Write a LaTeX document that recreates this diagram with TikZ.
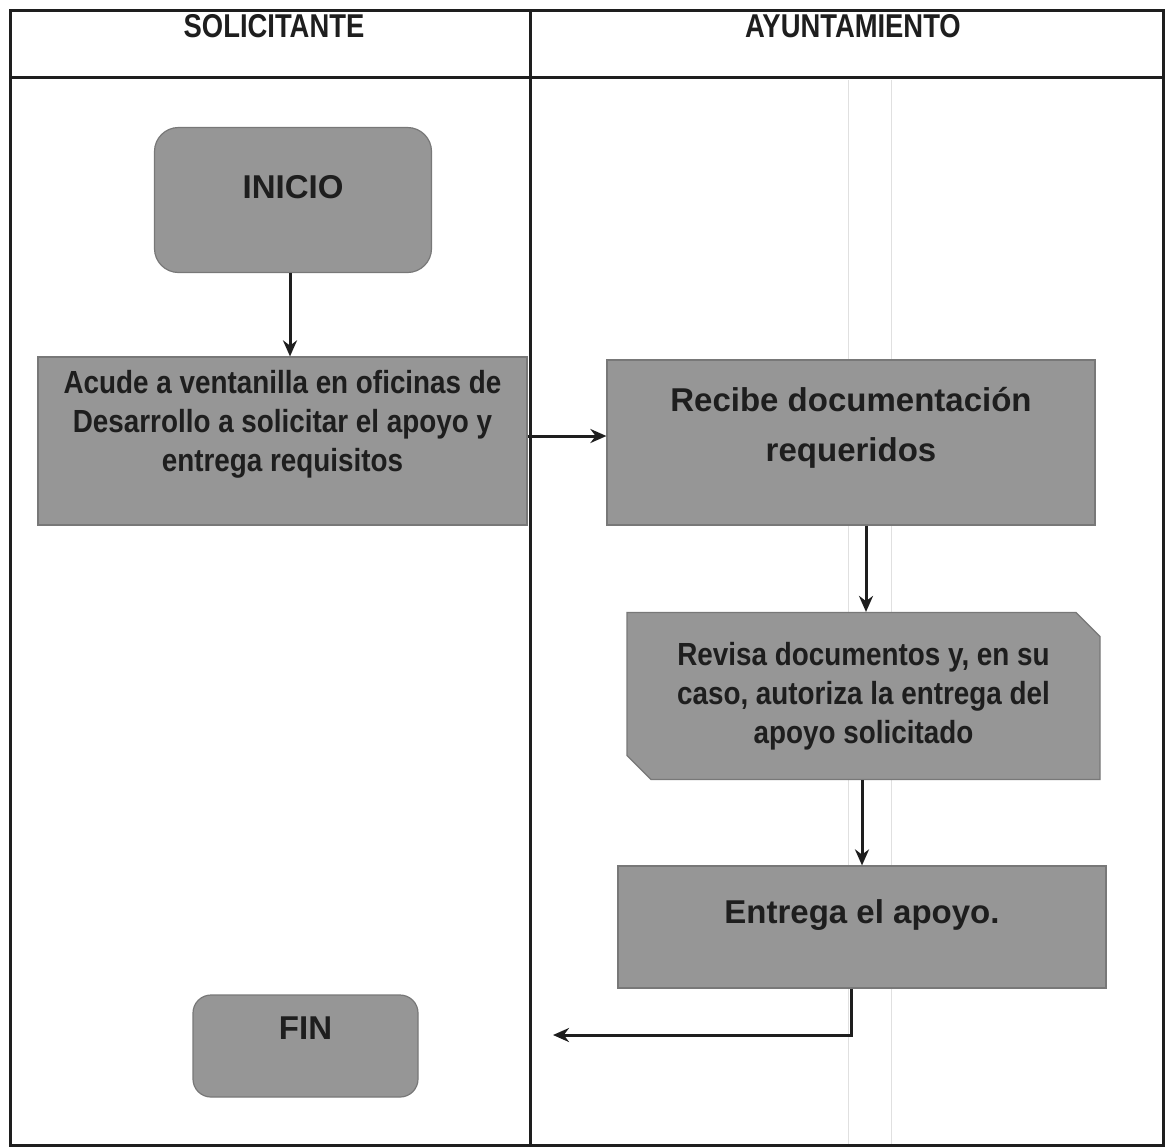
\documentclass[tikz,border=0pt]{standalone}
\usepackage{fontspec}
\setmainfont{Liberation Sans}
\newfontfamily\condA[FakeStretch=0.87]{Liberation Sans}
\newfontfamily\condH[FakeStretch=0.83]{Liberation Sans}
\usetikzlibrary{shapes.misc,arrows.meta}
\definecolor{boxgray}{RGB}{150,150,150}
\definecolor{boxedge}{RGB}{120,120,120}
\definecolor{ink}{RGB}{30,30,30}
\tikzset{
  frameline/.style={line width=1.5pt, draw=ink},
  faint/.style={line width=0.5pt, draw=black!12},
  stepbox/.style={draw=boxedge, fill=boxgray, line width=0.6pt, align=center, text=ink, inner sep=2pt},
  condtext/.style={font=\condA\bfseries\fontsize{16}{19.5}\selectfont},
  widetext/.style={font=\bfseries\fontsize{16.5}{25}\selectfont},
  termbox/.style={stepbox, rounded corners=12pt},
  conn/.style={line width=1.5pt, draw=ink, -{Stealth[length=8pt,width=7pt]}},
  headtext/.style={font=\condH\bfseries\fontsize{16.5}{18}\selectfont, text=ink}
}
\begin{document}
\begin{tikzpicture}[x=0.5pt,y=-0.5pt]
\useasboundingbox[fill=white] (0,0) rectangle (1166,1147);
% faint scan lines
\draw[faint] (848,80) -- (848,1145);
\draw[faint] (891,80) -- (891,1145);
% frame
\draw[frameline] (10,10) rectangle (1163,1145);
\draw[frameline] (10,77) -- (1163,77);
\draw[frameline] (530,10) -- (530,1145);
\node[headtext] (h1) at (274,26) {SOLICITANTE};
\node[headtext] (h2) at (853,26) {AYUNTAMIENTO};
% nodes
\node[termbox, minimum width=138.5pt, minimum height=72.5pt, label={[widetext, text=ink, yshift=6.5pt]center:INICIO}] (inicio) at (293,200) {};
\node[stepbox, minimum width=244.5pt, minimum height=84pt, label={[condtext, align=center, text=ink, yshift=8.5pt]center:{Acude a ventanilla en oficinas de\\Desarrollo a solicitar el apoyo y\\entrega requisitos}}] (acude) at (282.5,441) {};
\node[stepbox, minimum width=244pt, minimum height=82.5pt, label={[widetext, align=center, text=ink, yshift=7.5pt]center:{Recibe documentación\\requeridos}}] (recibe) at (851,442.5) {};
\node[stepbox, condtext, chamfered rectangle, chamfered rectangle corners={north east,south west}, chamfered rectangle xsep=6pt, chamfered rectangle ysep=6pt, minimum width=236.5pt, minimum height=83.5pt] (revisa) at (863.5,696) {Revisa documentos y, en su\\caso, autoriza la entrega del\\apoyo solicitado};
\node[stepbox, minimum width=244pt, minimum height=61pt, label={[widetext, text=ink, yshift=6pt]center:Entrega el apoyo.}] (entrega) at (862,927) {};
\node[termbox, minimum width=112.5pt, minimum height=51pt, rounded corners=9pt, label={[widetext, text=ink, yshift=9pt]center:FIN}] (fin) at (305.5,1046) {};
% connectors
\coordinate (finend) at (553,1035);
\draw[conn] (inicio.south -| 290,0) -- (acude.north -| 290,0);
\draw[conn] (acude.east |- 0,436) -- (recibe.west |- 0,436);
\draw[conn] (recibe.south -| 866,0) -- (revisa.north -| 866,0);
\draw[conn] (revisa.south -| 862,0) -- (entrega.north -| 862,0);
\draw[conn] (entrega.south -| 851,0) |- (finend);
\end{tikzpicture}
\end{document}
